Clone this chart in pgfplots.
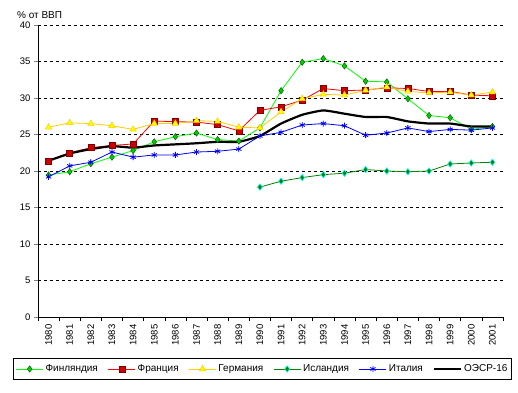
\documentclass[border=0pt]{standalone}
\usepackage{pgfplots}
\pgfplotsset{compat=1.18}
\usepackage{fontspec}
\setmainfont{Liberation Sans}
\definecolor{fingreen}{RGB}{0,255,0}
\definecolor{finmark}{RGB}{0,204,0}
\definecolor{frred}{RGB}{255,0,0}
\definecolor{frmark}{RGB}{204,0,0}
\definecolor{degold}{RGB}{255,204,0}
\definecolor{demark}{RGB}{255,255,0}
\definecolor{isgreen}{RGB}{0,128,0}
\definecolor{iscyan}{RGB}{0,255,255}
\definecolor{itblue}{RGB}{0,0,255}
\begin{document}
\begin{tikzpicture}[x=1pt,y=1pt]
\path[use as bounding box] (0,0) rectangle (518,392);
\node[anchor=north west, inner sep=0pt, font=\fontsize{10}{11}\selectfont] at (17,381) {\% от ВВП};
\begin{axis}[
  at={(38pt,75pt)}, anchor=south west,
  scale only axis, width=465pt, height=292pt,
  xmin=-0.5, xmax=21.5, ymin=0, ymax=40,
  axis x line*=bottom, axis y line*=left,
  axis line style={black, line width=0.8pt, -},
  xtick={0,...,21},
  xticklabels={1980,1981,1982,1983,1984,1985,1986,1987,1988,1989,1990,1991,1992,1993,1994,1995,1996,1997,1998,1999,2000,2001},
  x tick label style={rotate=90, anchor=east, font=\fontsize{9.5}{10}\selectfont},
  major x tick style={draw=none},
  minor xtick={-0.5,0.5,...,21.5},
  minor x tick style={black, line width=0.6pt},
  minor tick length=4pt,
  ytick={0,5,...,40},
  y tick label style={font=\fontsize{9.5}{10}\selectfont},
  /pgf/number format/assume math mode=true,
  major tick length=4pt,
  tick align=outside,
  ymajorgrids,
  major grid style={black, dashed, dash pattern=on 3pt off 3pt, line width=0.6pt},
  legend columns=6,
  legend style={at={(0.483,-0.178)}, anchor=center, draw=black, line width=0.8pt,
    font=\fontsize{10}{11}\selectfont, inner xsep=2pt, inner ysep=4pt,
    /tikz/every even column/.append style={column sep=8pt}},
  legend image code/.code={
    \draw[#1, mark=none] (0pt,0pt) -- (27pt,0pt);
    \draw[#1, only marks] plot coordinates {(13.5pt,0pt)};
  },
  clip=false,
]
% Finland
\addplot[fingreen, line width=0.8pt, mark=diamond*, mark size=3.2pt, mark options={fill=finmark, draw=black!70!green, line width=0.4pt}] coordinates {
(0,19.45)(1,19.9)(2,21.0)(3,21.9)(4,22.8)(5,24.0)(6,24.7)(7,25.2)(8,24.3)(9,24.1)
(10,25.9)(11,31.0)(12,34.9)(13,35.4)(14,34.4)(15,32.3)(16,32.2)(17,29.9)(18,27.6)(19,27.3)(20,25.7)(21,26.1)};
\addlegendentry{Финляндия}
% France
\addplot[frred, line width=0.8pt, mark=square*, mark size=3pt, mark options={fill=frmark, draw=black!50!red, line width=0.5pt}] coordinates {
(0,21.4)(1,22.5)(2,23.2)(3,23.5)(4,23.7)(5,26.85)(6,26.75)(7,26.7)(8,26.35)(9,25.5)
(10,28.3)(11,28.8)(12,29.7)(13,31.3)(14,31.0)(15,31.1)(16,31.4)(17,31.3)(18,30.9)(19,30.9)(20,30.4)(21,30.3)};
\addlegendentry{Франция}
% Germany
\addplot[degold, line width=0.8pt, mark=triangle*, mark size=3.6pt, mark options={fill=demark, draw=degold, line width=0.5pt}] coordinates {
(0,26.0)(1,26.6)(2,26.5)(3,26.2)(4,25.7)(5,26.5)(6,26.5)(7,26.9)(8,26.8)(9,26.0)
(10,25.9)(11,28.1)(12,29.9)(13,30.5)(14,30.4)(15,31.05)(16,31.5)(17,30.9)(18,30.7)(19,30.8)(20,30.4)(21,30.8)};
\addlegendentry{Германия}
% Iceland
\addplot[isgreen, line width=0.8pt, mark=diamond*, mark size=3.2pt, mark options={fill=isgreen, draw=iscyan, line width=0.6pt}] coordinates {
(10,17.8)(11,18.6)(12,19.1)(13,19.5)(14,19.7)(15,20.2)(16,20.0)(17,19.9)(18,20.0)(19,20.96)(20,21.1)(21,21.2)};
\addlegendentry{Исландия}
% Italy
\addplot[itblue, line width=0.8pt, mark=asterisk, mark size=3pt, mark options={line width=0.8pt}] coordinates {
(0,19.2)(1,20.7)(2,21.2)(3,22.6)(4,21.9)(5,22.2)(6,22.2)(7,22.6)(8,22.7)(9,23.0)
(10,24.8)(11,25.3)(12,26.3)(13,26.5)(14,26.2)(15,24.9)(16,25.2)(17,25.9)(18,25.4)(19,25.7)(20,25.6)(21,25.9)};
\addlegendentry{Италия}
% OECD-16
\addplot[black, line width=2.2pt, mark=none, smooth, tension=0.3] coordinates {
(0,21.4)(1,22.4)(2,23.0)(3,23.4)(4,23.2)(5,23.5)(6,23.65)(7,23.8)(8,24.0)(9,24.0)
(10,24.8)(11,26.5)(12,27.7)(13,28.3)(14,27.85)(15,27.4)(16,27.4)(17,26.8)(18,26.5)(19,26.5)(20,26.1)(21,26.1)};
\addlegendentry{ОЭСР-16}
\end{axis}
\end{tikzpicture}
\end{document}
